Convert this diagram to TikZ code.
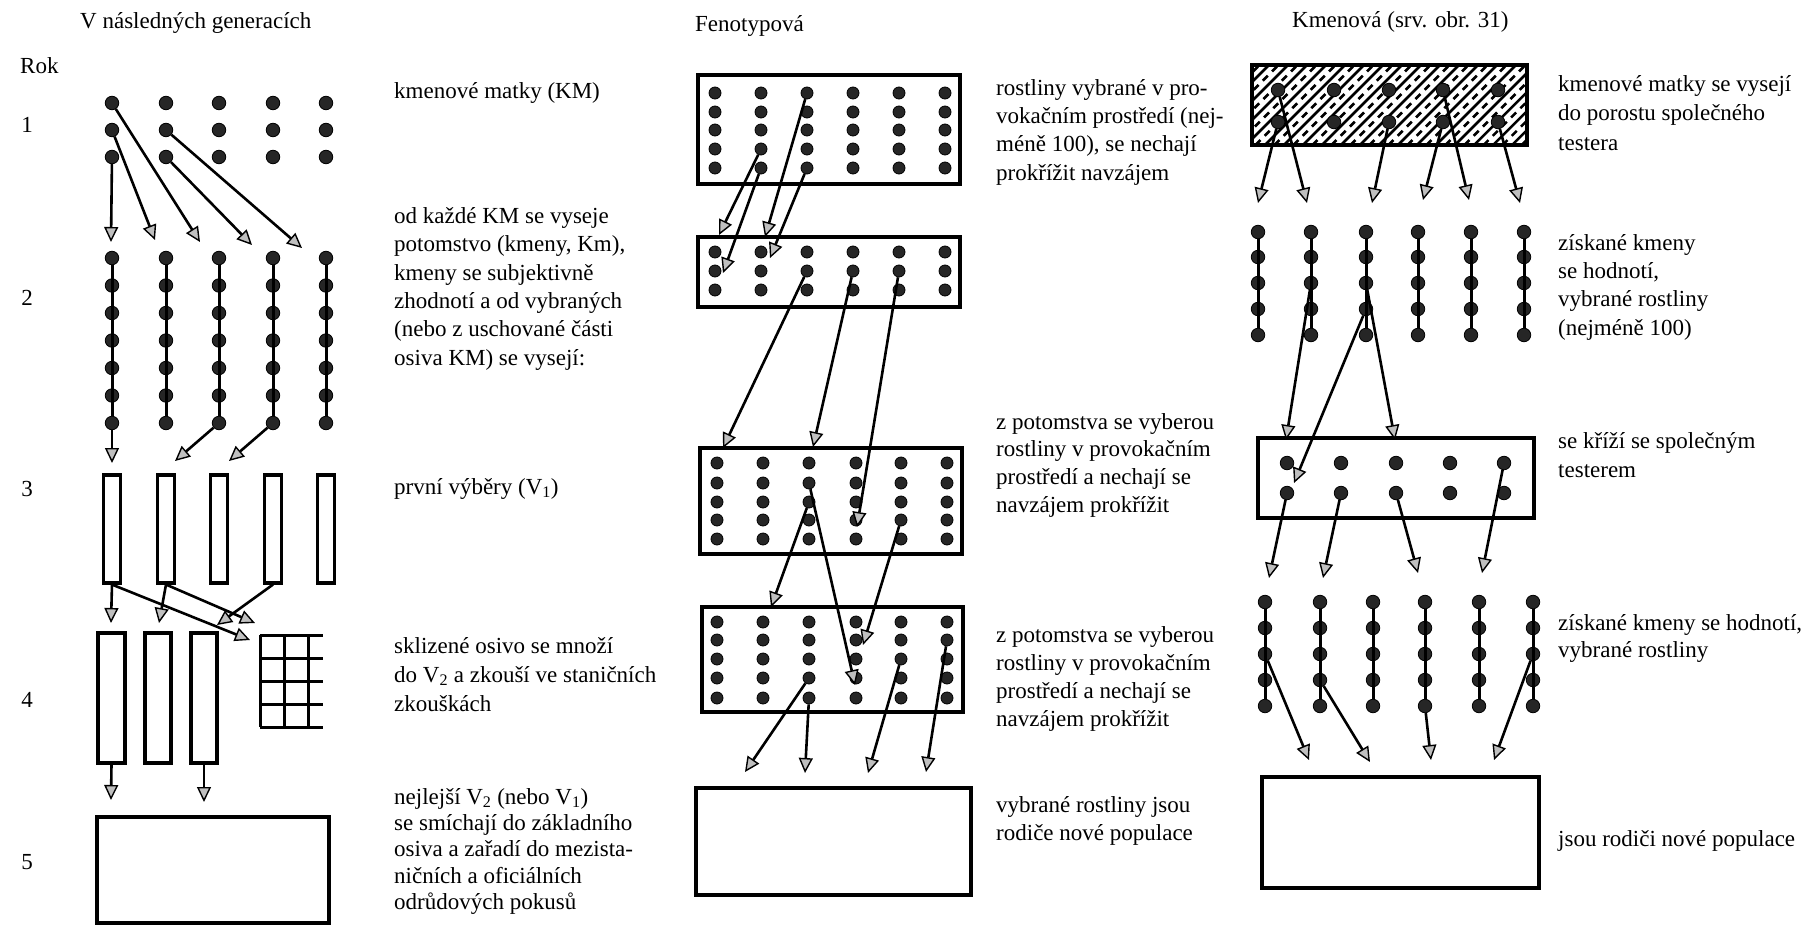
\documentclass[tikz,border=0pt]{standalone}
\usepackage{fontspec}
\setmainfont{Liberation Serif}
\usetikzlibrary{arrows.meta}
\newcommand\tf[1]{\fontsize{23}{#1}\selectfont}
\tikzset{
  dot/.style={circle, fill=black!85, draw=black, line width=0.8pt, inner sep=0pt, minimum size=13.5pt},
  sdot/.style={dot, minimum size=12pt},
  arr/.style={line width=2.6pt, -{Triangle[length=15pt,width=14pt,fill=gray!50,line width=1.4pt]}},
  chainline/.style={line width=3pt},
  box/.style={draw, line width=3.6pt, inner sep=0pt},
  thinbox/.style={draw, line width=3.1pt, inner sep=0pt},
  gridline/.style={line width=3pt},
  txt/.style={anchor=north west, inner sep=0pt, align=left},
  hatchline/.style={line width=2.5pt},
  dhatchline/.style={line width=2.5pt, dash pattern=on 7pt off 6pt},
}
\begin{document}
\begin{tikzpicture}[x=1pt,y=-1pt]
\fill[white] (0,0) rectangle (1816,929);
\useasboundingbox (0,0) rectangle (1816,929);

% ---------------- titles and years
\node[txt, font={\tf{28}}] (h1) at (80,12) {V následných generacích};
\node[txt, font={\tf{28}}] (h2) at (695,15) {Fenotypová};
\node[txt, font={\tf{28}}] (h3) at (1292,11) {Kmenová (srv. obr. 31)};
\node[anchor=west, inner sep=0pt, font={\tf{28}}] (rok) at (20,66) {Rok};
\foreach \n/\y in {1/125,2/298,3/489,4/700,5/862}
  \node[inner sep=0pt, font={\tf{28}}] (y\n) at (27,\y) {\n};

% ---------------- left column
\foreach \c/\x in {1/112,2/166,3/219,4/273,5/326}{
  \foreach \r/\y in {1/103,2/130,3/157}
    \node[dot] (a\c\r) at (\x,\y) {};
  \foreach \r in {1,...,7}
    \node[dot] (b\c\r) at ({\x},{258+27.5*(\r-1)}) {};
  \draw[chainline] (b\c1) -- (b\c7);
  \node[thinbox, minimum width=17pt, minimum height=108pt] (r\c) at (\x,529) {};
}
\node[thinbox, minimum width=27pt, minimum height=130pt] (q1) at (111.5,698) {};
\node[thinbox, minimum width=26pt, minimum height=130pt] (q2) at (158,698) {};
\node[thinbox, minimum width=26pt, minimum height=130pt] (q3) at (204,698) {};
% grid
\foreach \x in {260,284,308} \draw[gridline] (\x,635) -- (\x,727);
\foreach \y in {635,658,681,704,727} \draw[gridline] (260,\y) -- (323,\y);
\node[box, minimum width=232pt, minimum height=106pt] (q5) at (213,870) {};

\coordinate (ta1) at (111,242); \coordinate (ta2) at (155,240);
\coordinate (ta3) at (200,242); \coordinate (ta4) at (252,245);
\coordinate (ta5) at (302,248);
\draw[arr] (a13) -- (ta1);
\draw[arr] (a12) -- (ta2);
\draw[arr] (a11) -- (ta3);
\draw[arr] (a23) -- (ta4);
\draw[arr] (a22) -- (ta5);
\coordinate (tb1) at (112,463); \coordinate (tb2) at (175,461); \coordinate (tb3) at (229,461);
\draw[arr] (b17) -- (tb1);
\draw[arr] (b37) -- (tb2);
\draw[arr] (b47) -- (tb3);
\coordinate (tc1) at (111,623); \coordinate (tc2) at (250,640);
\coordinate (tc3) at (159,623); \coordinate (tc4) at (255,623);
\coordinate (tc5) at (217,625);
\draw[arr] (r1.south) -- (tc1);
\draw[arr] (r1.south) -- (tc2);
\draw[arr] (r2.south) -- (tc3);
\draw[arr] (r2.south) -- (tc4);
\draw[arr] (r4.south) -- (tc5);
\coordinate (td1) at (111,800); \coordinate (td2) at (204,802);
\draw[arr] (q1.south) -- (td1);
\draw[arr] (q3.south) -- (td2);

% left texts
\node[txt, font={\tf{28.4}}] (l1) at (394,82) {kmenové matky (KM)};
\node[txt, font={\tf{28.4}}] (l2) at (394,207) {od každé KM se vyseje\\potomstvo (kmeny, Km),\\kmeny se subjektivně\\zhodnotí a od vybraných\\(nebo z uschované části\\osiva KM) se vysejí:};
\node[txt, font={\tf{28.4}}] (l3) at (394,478) {první výběry (V\textsubscript{1})};
\node[txt, font={\tf{29}}] (l4) at (394,637) {sklizené osivo se množí\\do V\textsubscript{2} a zkouší ve staničních\\zkouškách};
\node[txt, font={\tf{26.3}}] (l5) at (394,788) {nejlejší V\textsubscript{2} (nebo V\textsubscript{1})\\se smíchají do základního\\osiva a zařadí do mezista-\\ničních a oficiálních\\odrůdových pokusů};

% ---------------- middle column
\node[box, minimum width=262pt, minimum height=109pt] (m1) at (829,129.5) {};
\node[box, minimum width=262pt, minimum height=70pt] (m2) at (829,272) {};
\node[box, minimum width=262pt, minimum height=106pt] (m3) at (831,501) {};
\node[box, minimum width=261pt, minimum height=105pt] (m4) at (832.5,659.5) {};
\node[box, minimum width=275pt, minimum height=107pt] (m5) at (833.5,841.5) {};
\foreach \c/\x in {1/715,2/761,3/807,4/853,5/899,6/945}{
  \foreach \r/\y in {1/93,2/112,3/130,4/149,5/168}
    \node[sdot] (p1\c\r) at (\x,\y) {};
  \foreach \r/\y in {1/252,2/271,3/290}
    \node[sdot] (p2\c\r) at (\x,\y) {};
}
\foreach \c/\x in {1/717,2/763,3/809,4/856,5/901,6/947}{
  \foreach \r/\y in {1/463,2/483,3/502,4/520,5/539}
    \node[sdot] (p3\c\r) at (\x,\y) {};
  \foreach \r/\y in {1/622,2/640,3/659,4/678,5/698}
    \node[sdot] (p4\c\r) at (\x,\y) {};
}
\coordinate (u1) at (719,235); \coordinate (u2) at (723,273);
\coordinate (u3) at (765,237); \coordinate (u4) at (770,258);
\draw[arr] (p124) -- (u1);
\draw[arr] (p125) -- (u2);
\draw[arr] (p131) -- (u3);
\draw[arr] (p135) -- (u4);
\coordinate (u5) at (723,448); \coordinate (u6) at (813,447); \coordinate (u7) at (857,527);
\draw[arr] (p232) -- (u5);
\draw[arr] (p242) -- (u6);
\draw[arr] (p252) -- (u7);
\coordinate (u8) at (771,607); \coordinate (u9) at (855,685); \coordinate (u10) at (863,645);
\draw[arr] (p333) -- (u8);
\draw[arr] (p332) -- (u9);
\draw[arr] (p354) -- (u10);
\coordinate (u11) at (745,772); \coordinate (u12) at (805,773);
\coordinate (u13) at (868,773); \coordinate (u14) at (926,772);
\draw[arr] (p434) -- (u11);
\draw[arr] (p435) -- (u12);
\draw[arr] (p453) -- (u13);
\draw[arr] (p462) -- (u14);

% middle texts
\node[txt, font={\tf{28.3}}] (n1) at (996,79) {rostliny vybrané v pro-\\vokačním prostředí (nej-\\méně 100), se nechají\\prokřížit navzájem};
\node[txt, font={\tf{27.7}}] (n2) at (996,413) {z potomstva se vyberou\\rostliny v provokačním\\prostředí a nechají se\\navzájem prokřížit};
\node[txt, font={\tf{28}}] (n3) at (996,626) {z potomstva se vyberou\\rostliny v provokačním\\prostředí a nechají se\\navzájem prokřížit};
\node[txt, font={\tf{28}}] (n4) at (996,796) {vybrané rostliny jsou\\rodiče nové populace};

% ---------------- right column
\begin{scope}
  \clip (1252,65) rectangle (1527,145);
  \foreach \i in {0,...,20}{
    \draw[hatchline] ({1170+19*\i},145) -- ++(82,-82);
    \draw[dhatchline] ({1179.5+19*\i},145) -- ++(82,-82);
  }
\end{scope}
\node[box, minimum width=275pt, minimum height=80pt] (hb) at (1389.5,105) {};
\foreach \c/\x in {1/1278,2/1334,3/1389,4/1443,5/1498}
  \foreach \r/\y in {1/90,2/122}
    \node[dot] (h\c\r) at (\x,\y) {};
\foreach \c/\x in {1/1258,2/1311,3/1366,4/1418,5/1471,6/1524}{
  \foreach \r/\y in {1/232,2/257,3/283,4/309,5/335}
    \node[dot] (c\c\r) at (\x,\y) {};
  \draw[chainline] (c\c1) -- (c\c5);
}
\coordinate (v1) at (1258,203); \coordinate (v2) at (1307,203);
\coordinate (v3) at (1372,203); \coordinate (v4) at (1423,200);
\coordinate (v5) at (1469,200); \coordinate (v6) at (1520,203);
\draw[arr] (h12) -- (v1);
\draw[arr] (h11) -- (v2);
\draw[arr] (h32) -- (v3);
\draw[arr] (h42) -- (v4);
\draw[arr] (h41) -- (v5);
\draw[arr] (h52) -- (v6);

\node[box, minimum width=276pt, minimum height=80pt] (tb) at (1396,478) {};
\foreach \c/\x in {1/1287,2/1341,3/1396,4/1450,5/1504}
  \foreach \r/\y in {1/463,2/493}
    \node[dot] (s\c\r) at (\x,\y) {};
\coordinate (v7) at (1286,440); \coordinate (v8) at (1294,483); \coordinate (v9) at (1395,440);
\draw[arr] (c23) -- (v7);
\draw[arr] (c34) -- (v8);
\draw[arr] (c33) -- (v9);

\foreach \c/\x in {1/1265,2/1320,3/1373,4/1425,5/1479,6/1533}{
  \foreach \r/\y in {1/602,2/628,3/654,4/680,5/706}
    \node[dot] (e\c\r) at (\x,\y) {};
  \draw[chainline] (e\c1) -- (e\c5);
}
\coordinate (v10) at (1269,578); \coordinate (v11) at (1323,578);
\coordinate (v12) at (1418,573); \coordinate (v13) at (1482,573);
\draw[arr] (s12) -- (v10);
\draw[arr] (s22) -- (v11);
\draw[arr] (s32) -- (v12);
\draw[arr] (s51) -- (v13);

\node[box, minimum width=277pt, minimum height=111pt] (fb) at (1400.5,832.5) {};
\coordinate (v14) at (1309,760); \coordinate (v15) at (1370,762);
\coordinate (v16) at (1431,760); \coordinate (v17) at (1494,760);
\draw[arr] (e13) -- (v14);
\draw[arr] (e24) -- (v15);
\draw[arr] (e45) -- (v16);
\draw[arr] (e63) -- (v17);

% right texts
\node[txt, font={\tf{29.5}}] (k1) at (1558,75) {kmenové matky se vysejí\\do porostu společného\\testera};
\node[txt, font={\tf{28.3}}] (k2) at (1558,234) {získané kmeny\\se hodnotí,\\vybrané rostliny\\(nejméně 100)};
\node[txt, font={\tf{29}}] (k3) at (1558,432) {se kříží se společným\\testerem};
\node[txt, font={\tf{27}}] (k4) at (1558,614) {získané kmeny se hodnotí,\\vybrané rostliny};
\node[txt, font={\tf{28}}] (k5) at (1558,830) {jsou rodiči nové populace};
\end{tikzpicture}
\end{document}
